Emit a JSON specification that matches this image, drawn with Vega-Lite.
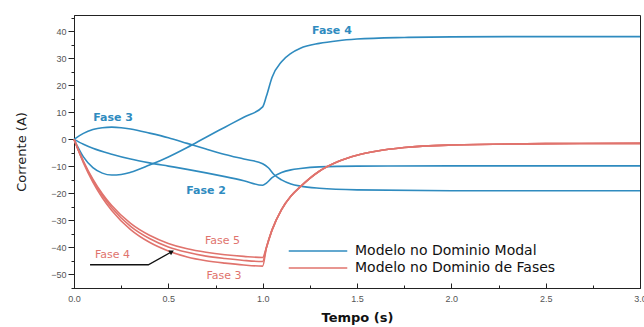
{
  "$schema": "https://vega.github.io/schema/vega-lite/v6.json",
  "width": 566,
  "height": 273,
  "autosize": "none",
  "padding": {"left": 74, "top": 15, "right": 4, "bottom": 39},
  "background": "white",
  "config": {
    "view": {"stroke": "#222", "strokeWidth": 1},
    "font": "Liberation Sans"
  },
  "datasets": {
    "curves": [
      {"t": 0, "v": 0, "fase": "M2", "modelo": "Modelo no Dominio Modal"},
      {"t": 0.05, "v": -1.8, "fase": "M2", "modelo": "Modelo no Dominio Modal"},
      {"t": 0.1, "v": -3.3, "fase": "M2", "modelo": "Modelo no Dominio Modal"},
      {"t": 0.2, "v": -5.5, "fase": "M2", "modelo": "Modelo no Dominio Modal"},
      {"t": 0.3, "v": -7.3, "fase": "M2", "modelo": "Modelo no Dominio Modal"},
      {"t": 0.4, "v": -8.7, "fase": "M2", "modelo": "Modelo no Dominio Modal"},
      {"t": 0.5, "v": -9.9, "fase": "M2", "modelo": "Modelo no Dominio Modal"},
      {"t": 0.6, "v": -11.1, "fase": "M2", "modelo": "Modelo no Dominio Modal"},
      {"t": 0.7, "v": -12.4, "fase": "M2", "modelo": "Modelo no Dominio Modal"},
      {"t": 0.8, "v": -13.8, "fase": "M2", "modelo": "Modelo no Dominio Modal"},
      {"t": 0.9, "v": -15.3, "fase": "M2", "modelo": "Modelo no Dominio Modal"},
      {"t": 1.0, "v": -17, "fase": "M2", "modelo": "Modelo no Dominio Modal"},
      {"t": 1.02, "v": -16.2, "fase": "M2", "modelo": "Modelo no Dominio Modal"},
      {"t": 1.05, "v": -14.2, "fase": "M2", "modelo": "Modelo no Dominio Modal"},
      {"t": 1.1, "v": -12.3, "fase": "M2", "modelo": "Modelo no Dominio Modal"},
      {"t": 1.15, "v": -11.3, "fase": "M2", "modelo": "Modelo no Dominio Modal"},
      {"t": 1.2, "v": -10.8, "fase": "M2", "modelo": "Modelo no Dominio Modal"},
      {"t": 1.3, "v": -10.2, "fase": "M2", "modelo": "Modelo no Dominio Modal"},
      {"t": 1.5, "v": -9.9, "fase": "M2", "modelo": "Modelo no Dominio Modal"},
      {"t": 2.0, "v": -9.8, "fase": "M2", "modelo": "Modelo no Dominio Modal"},
      {"t": 2.5, "v": -9.8, "fase": "M2", "modelo": "Modelo no Dominio Modal"},
      {"t": 3.0, "v": -9.8, "fase": "M2", "modelo": "Modelo no Dominio Modal"},

      {"t": 0, "v": 0, "fase": "M3", "modelo": "Modelo no Dominio Modal"},
      {"t": 0.05, "v": 2.2, "fase": "M3", "modelo": "Modelo no Dominio Modal"},
      {"t": 0.1, "v": 3.6, "fase": "M3", "modelo": "Modelo no Dominio Modal"},
      {"t": 0.15, "v": 4.3, "fase": "M3", "modelo": "Modelo no Dominio Modal"},
      {"t": 0.2, "v": 4.5, "fase": "M3", "modelo": "Modelo no Dominio Modal"},
      {"t": 0.25, "v": 4.3, "fase": "M3", "modelo": "Modelo no Dominio Modal"},
      {"t": 0.3, "v": 3.8, "fase": "M3", "modelo": "Modelo no Dominio Modal"},
      {"t": 0.4, "v": 2.3, "fase": "M3", "modelo": "Modelo no Dominio Modal"},
      {"t": 0.5, "v": 0.6, "fase": "M3", "modelo": "Modelo no Dominio Modal"},
      {"t": 0.6, "v": -1.5, "fase": "M3", "modelo": "Modelo no Dominio Modal"},
      {"t": 0.7, "v": -3.6, "fase": "M3", "modelo": "Modelo no Dominio Modal"},
      {"t": 0.8, "v": -5.6, "fase": "M3", "modelo": "Modelo no Dominio Modal"},
      {"t": 0.9, "v": -7.3, "fase": "M3", "modelo": "Modelo no Dominio Modal"},
      {"t": 1.0, "v": -9, "fase": "M3", "modelo": "Modelo no Dominio Modal"},
      {"t": 1.03, "v": -10.5, "fase": "M3", "modelo": "Modelo no Dominio Modal"},
      {"t": 1.06, "v": -13, "fase": "M3", "modelo": "Modelo no Dominio Modal"},
      {"t": 1.1, "v": -15, "fase": "M3", "modelo": "Modelo no Dominio Modal"},
      {"t": 1.15, "v": -16.5, "fase": "M3", "modelo": "Modelo no Dominio Modal"},
      {"t": 1.2, "v": -17.3, "fase": "M3", "modelo": "Modelo no Dominio Modal"},
      {"t": 1.3, "v": -18.1, "fase": "M3", "modelo": "Modelo no Dominio Modal"},
      {"t": 1.5, "v": -18.7, "fase": "M3", "modelo": "Modelo no Dominio Modal"},
      {"t": 2.0, "v": -19, "fase": "M3", "modelo": "Modelo no Dominio Modal"},
      {"t": 2.5, "v": -19, "fase": "M3", "modelo": "Modelo no Dominio Modal"},
      {"t": 3.0, "v": -19, "fase": "M3", "modelo": "Modelo no Dominio Modal"},

      {"t": 0, "v": 0, "fase": "M4", "modelo": "Modelo no Dominio Modal"},
      {"t": 0.05, "v": -6.5, "fase": "M4", "modelo": "Modelo no Dominio Modal"},
      {"t": 0.1, "v": -10.5, "fase": "M4", "modelo": "Modelo no Dominio Modal"},
      {"t": 0.15, "v": -12.5, "fase": "M4", "modelo": "Modelo no Dominio Modal"},
      {"t": 0.2, "v": -13.2, "fase": "M4", "modelo": "Modelo no Dominio Modal"},
      {"t": 0.25, "v": -13, "fase": "M4", "modelo": "Modelo no Dominio Modal"},
      {"t": 0.3, "v": -12.2, "fase": "M4", "modelo": "Modelo no Dominio Modal"},
      {"t": 0.4, "v": -9.5, "fase": "M4", "modelo": "Modelo no Dominio Modal"},
      {"t": 0.5, "v": -6.5, "fase": "M4", "modelo": "Modelo no Dominio Modal"},
      {"t": 0.6, "v": -3, "fase": "M4", "modelo": "Modelo no Dominio Modal"},
      {"t": 0.7, "v": 0.8, "fase": "M4", "modelo": "Modelo no Dominio Modal"},
      {"t": 0.8, "v": 4.5, "fase": "M4", "modelo": "Modelo no Dominio Modal"},
      {"t": 0.9, "v": 8.2, "fase": "M4", "modelo": "Modelo no Dominio Modal"},
      {"t": 1.0, "v": 12, "fase": "M4", "modelo": "Modelo no Dominio Modal"},
      {"t": 1.02, "v": 16, "fase": "M4", "modelo": "Modelo no Dominio Modal"},
      {"t": 1.05, "v": 23, "fase": "M4", "modelo": "Modelo no Dominio Modal"},
      {"t": 1.1, "v": 28.7, "fase": "M4", "modelo": "Modelo no Dominio Modal"},
      {"t": 1.15, "v": 31.8, "fase": "M4", "modelo": "Modelo no Dominio Modal"},
      {"t": 1.2, "v": 33.7, "fase": "M4", "modelo": "Modelo no Dominio Modal"},
      {"t": 1.3, "v": 35.5, "fase": "M4", "modelo": "Modelo no Dominio Modal"},
      {"t": 1.4, "v": 36.5, "fase": "M4", "modelo": "Modelo no Dominio Modal"},
      {"t": 1.5, "v": 37.1, "fase": "M4", "modelo": "Modelo no Dominio Modal"},
      {"t": 1.75, "v": 37.7, "fase": "M4", "modelo": "Modelo no Dominio Modal"},
      {"t": 2.0, "v": 37.9, "fase": "M4", "modelo": "Modelo no Dominio Modal"},
      {"t": 2.5, "v": 38, "fase": "M4", "modelo": "Modelo no Dominio Modal"},
      {"t": 3.0, "v": 38, "fase": "M4", "modelo": "Modelo no Dominio Modal"},

      {"t": 0, "v": 0, "fase": "F5", "modelo": "Modelo no Dominio de Fases"},
      {"t": 0.05, "v": -8.1, "fase": "F5", "modelo": "Modelo no Dominio de Fases"},
      {"t": 0.1, "v": -14.7, "fase": "F5", "modelo": "Modelo no Dominio de Fases"},
      {"t": 0.15, "v": -20.1, "fase": "F5", "modelo": "Modelo no Dominio de Fases"},
      {"t": 0.2, "v": -24.5, "fase": "F5", "modelo": "Modelo no Dominio de Fases"},
      {"t": 0.3, "v": -31.1, "fase": "F5", "modelo": "Modelo no Dominio de Fases"},
      {"t": 0.4, "v": -35.5, "fase": "F5", "modelo": "Modelo no Dominio de Fases"},
      {"t": 0.5, "v": -38.5, "fase": "F5", "modelo": "Modelo no Dominio de Fases"},
      {"t": 0.6, "v": -40.5, "fase": "F5", "modelo": "Modelo no Dominio de Fases"},
      {"t": 0.7, "v": -41.8, "fase": "F5", "modelo": "Modelo no Dominio de Fases"},
      {"t": 0.8, "v": -42.7, "fase": "F5", "modelo": "Modelo no Dominio de Fases"},
      {"t": 0.9, "v": -43.3, "fase": "F5", "modelo": "Modelo no Dominio de Fases"},
      {"t": 1.0, "v": -43.7, "fase": "F5", "modelo": "Modelo no Dominio de Fases"},
      {"t": 1.02, "v": -40, "fase": "F5", "modelo": "Modelo no Dominio de Fases"},
      {"t": 1.05, "v": -33.5, "fase": "F5", "modelo": "Modelo no Dominio de Fases"},
      {"t": 1.1, "v": -26, "fase": "F5", "modelo": "Modelo no Dominio de Fases"},
      {"t": 1.15, "v": -21, "fase": "F5", "modelo": "Modelo no Dominio de Fases"},
      {"t": 1.2, "v": -17.5, "fase": "F5", "modelo": "Modelo no Dominio de Fases"},
      {"t": 1.3, "v": -11.8, "fase": "F5", "modelo": "Modelo no Dominio de Fases"},
      {"t": 1.4, "v": -8.2, "fase": "F5", "modelo": "Modelo no Dominio de Fases"},
      {"t": 1.5, "v": -5.9, "fase": "F5", "modelo": "Modelo no Dominio de Fases"},
      {"t": 1.6, "v": -4.4, "fase": "F5", "modelo": "Modelo no Dominio de Fases"},
      {"t": 1.75, "v": -3, "fase": "F5", "modelo": "Modelo no Dominio de Fases"},
      {"t": 2.0, "v": -2.1, "fase": "F5", "modelo": "Modelo no Dominio de Fases"},
      {"t": 2.5, "v": -1.6, "fase": "F5", "modelo": "Modelo no Dominio de Fases"},
      {"t": 3.0, "v": -1.5, "fase": "F5", "modelo": "Modelo no Dominio de Fases"},

      {"t": 0, "v": 0, "fase": "F4", "modelo": "Modelo no Dominio de Fases"},
      {"t": 0.05, "v": -8.3, "fase": "F4", "modelo": "Modelo no Dominio de Fases"},
      {"t": 0.1, "v": -15.2, "fase": "F4", "modelo": "Modelo no Dominio de Fases"},
      {"t": 0.15, "v": -20.7, "fase": "F4", "modelo": "Modelo no Dominio de Fases"},
      {"t": 0.2, "v": -25.3, "fase": "F4", "modelo": "Modelo no Dominio de Fases"},
      {"t": 0.3, "v": -32.2, "fase": "F4", "modelo": "Modelo no Dominio de Fases"},
      {"t": 0.4, "v": -36.7, "fase": "F4", "modelo": "Modelo no Dominio de Fases"},
      {"t": 0.5, "v": -39.8, "fase": "F4", "modelo": "Modelo no Dominio de Fases"},
      {"t": 0.6, "v": -41.8, "fase": "F4", "modelo": "Modelo no Dominio de Fases"},
      {"t": 0.7, "v": -43.2, "fase": "F4", "modelo": "Modelo no Dominio de Fases"},
      {"t": 0.8, "v": -44.1, "fase": "F4", "modelo": "Modelo no Dominio de Fases"},
      {"t": 0.9, "v": -44.8, "fase": "F4", "modelo": "Modelo no Dominio de Fases"},
      {"t": 1.0, "v": -45.2, "fase": "F4", "modelo": "Modelo no Dominio de Fases"},
      {"t": 1.02, "v": -40, "fase": "F4", "modelo": "Modelo no Dominio de Fases"},
      {"t": 1.05, "v": -33.5, "fase": "F4", "modelo": "Modelo no Dominio de Fases"},
      {"t": 1.1, "v": -26, "fase": "F4", "modelo": "Modelo no Dominio de Fases"},
      {"t": 1.15, "v": -21, "fase": "F4", "modelo": "Modelo no Dominio de Fases"},
      {"t": 1.2, "v": -17.5, "fase": "F4", "modelo": "Modelo no Dominio de Fases"},
      {"t": 1.3, "v": -11.8, "fase": "F4", "modelo": "Modelo no Dominio de Fases"},
      {"t": 1.4, "v": -8.2, "fase": "F4", "modelo": "Modelo no Dominio de Fases"},
      {"t": 1.5, "v": -5.9, "fase": "F4", "modelo": "Modelo no Dominio de Fases"},
      {"t": 1.6, "v": -4.4, "fase": "F4", "modelo": "Modelo no Dominio de Fases"},
      {"t": 1.75, "v": -3, "fase": "F4", "modelo": "Modelo no Dominio de Fases"},
      {"t": 2.0, "v": -2.1, "fase": "F4", "modelo": "Modelo no Dominio de Fases"},
      {"t": 2.5, "v": -1.6, "fase": "F4", "modelo": "Modelo no Dominio de Fases"},
      {"t": 3.0, "v": -1.5, "fase": "F4", "modelo": "Modelo no Dominio de Fases"},

      {"t": 0, "v": 0, "fase": "F3", "modelo": "Modelo no Dominio de Fases"},
      {"t": 0.05, "v": -8.7, "fase": "F3", "modelo": "Modelo no Dominio de Fases"},
      {"t": 0.1, "v": -15.8, "fase": "F3", "modelo": "Modelo no Dominio de Fases"},
      {"t": 0.15, "v": -21.6, "fase": "F3", "modelo": "Modelo no Dominio de Fases"},
      {"t": 0.2, "v": -26.3, "fase": "F3", "modelo": "Modelo no Dominio de Fases"},
      {"t": 0.3, "v": -33.4, "fase": "F3", "modelo": "Modelo no Dominio de Fases"},
      {"t": 0.4, "v": -38.1, "fase": "F3", "modelo": "Modelo no Dominio de Fases"},
      {"t": 0.5, "v": -41.3, "fase": "F3", "modelo": "Modelo no Dominio de Fases"},
      {"t": 0.6, "v": -43.5, "fase": "F3", "modelo": "Modelo no Dominio de Fases"},
      {"t": 0.7, "v": -44.9, "fase": "F3", "modelo": "Modelo no Dominio de Fases"},
      {"t": 0.8, "v": -45.8, "fase": "F3", "modelo": "Modelo no Dominio de Fases"},
      {"t": 0.9, "v": -46.5, "fase": "F3", "modelo": "Modelo no Dominio de Fases"},
      {"t": 1.0, "v": -46.9, "fase": "F3", "modelo": "Modelo no Dominio de Fases"},
      {"t": 1.02, "v": -40, "fase": "F3", "modelo": "Modelo no Dominio de Fases"},
      {"t": 1.05, "v": -33.5, "fase": "F3", "modelo": "Modelo no Dominio de Fases"},
      {"t": 1.1, "v": -26, "fase": "F3", "modelo": "Modelo no Dominio de Fases"},
      {"t": 1.15, "v": -21, "fase": "F3", "modelo": "Modelo no Dominio de Fases"},
      {"t": 1.2, "v": -17.5, "fase": "F3", "modelo": "Modelo no Dominio de Fases"},
      {"t": 1.3, "v": -11.8, "fase": "F3", "modelo": "Modelo no Dominio de Fases"},
      {"t": 1.4, "v": -8.2, "fase": "F3", "modelo": "Modelo no Dominio de Fases"},
      {"t": 1.5, "v": -5.9, "fase": "F3", "modelo": "Modelo no Dominio de Fases"},
      {"t": 1.6, "v": -4.4, "fase": "F3", "modelo": "Modelo no Dominio de Fases"},
      {"t": 1.75, "v": -3, "fase": "F3", "modelo": "Modelo no Dominio de Fases"},
      {"t": 2.0, "v": -2.1, "fase": "F3", "modelo": "Modelo no Dominio de Fases"},
      {"t": 2.5, "v": -1.6, "fase": "F3", "modelo": "Modelo no Dominio de Fases"},
      {"t": 3.0, "v": -1.5, "fase": "F3", "modelo": "Modelo no Dominio de Fases"}
    ],
    "labelsBlue": [
      {"t": 1.367, "v": 40.1, "label": "Fase 4"},
      {"t": 0.207, "v": 7.8, "label": "Fase 3"},
      {"t": 0.7, "v": -19.0, "label": "Fase 2"}
    ],
    "labelsRed": [
      {"t": 0.204, "v": -42.9, "label": "Fase 4"},
      {"t": 0.787, "v": -37.6, "label": "Fase 5"},
      {"t": 0.795, "v": -50.6, "label": "Fase 3"}
    ],
    "arrow": [
      {"t": 0.085, "v": -46.4, "k": 0},
      {"t": 0.394, "v": -46.4, "k": 1},
      {"t": 0.518, "v": -41.6, "k": 2}
    ],
    "arrowHead": [
      {"t": 0.518, "v": -41.6}
    ]
  },
  "encoding": {
    "x": {
      "field": "t", "type": "quantitative",
      "scale": {"domain": [0, 3], "nice": false, "zero": false},
      "axis": {
        "title": "Tempo (s)",
        "values": [0, 0.25, 0.5, 0.75, 1, 1.25, 1.5, 1.75, 2, 2.25, 2.5, 2.75, 3],
        "format": ".1f",
        "labelExpr": "abs(datum.value*2 - round(datum.value*2)) < 0.001 ? datum.label : ''",
        "grid": false,
        "domainColor": "#222",
        "tickColor": "#222",
        "tickSize": {"condition": {"test": "abs(datum.value*2 - round(datum.value*2)) < 0.001", "value": -5}, "value": -3},
        "labelPadding": 11,
        "labelFontSize": 9,
        "labelColor": "#555",
        "labelFlush": false,
        "titleFontSize": 13,
        "titleFontWeight": "bold",
        "titleColor": "#111",
        "titlePadding": 8,
        "titleFont": "DejaVu Sans"
      }
    },
    "y": {
      "field": "v", "type": "quantitative",
      "scale": {"domain": [-55, 46], "nice": false, "zero": false},
      "axis": {
        "title": "Corrente (A)",
        "values": [-55, -50, -45, -40, -35, -30, -25, -20, -15, -10, -5, 0, 5, 10, 15, 20, 25, 30, 35, 40, 45],
        "labelExpr": "datum.value % 10 === 0 ? datum.label : ''",
        "grid": false,
        "domainColor": "#222",
        "tickColor": "#222",
        "tickSize": {"condition": {"test": "datum.value % 10 === 0", "value": 6}, "value": 3},
        "labelPadding": 2,
        "labelFontSize": 9,
        "labelColor": "#555",
        "titleFontSize": 13,
        "titleFontWeight": "normal",
        "titleColor": "#222",
        "titlePadding": 22,
        "titleFont": "DejaVu Sans"
      }
    }
  },
  "layer": [
    {
      "data": {"name": "curves"},
      "mark": {"type": "line", "strokeWidth": 1.6, "interpolate": "monotone"},
      "encoding": {
        "color": {
          "field": "modelo", "type": "nominal",
          "scale": {"domain": ["Modelo no Dominio Modal", "Modelo no Dominio de Fases"], "range": ["#2f8bbf", "#e0736d"]},
          "legend": {
            "title": null,
            "orient": "none",
            "legendX": 237,
            "legendY": 229,
            "symbolType": "M-5,0H5",
            "symbolSize": 137,
            "symbolStrokeWidth": 1.5,
            "labelFontSize": 14,
            "labelFont": "DejaVu Sans",
            "labelColor": "#111",
            "labelOffset": 30,
            "labelLimit": 400,
            "rowPadding": 3,
            "padding": 0
          }
        },
        "detail": {"field": "fase", "type": "nominal"}
      }
    },
    {
      "data": {"name": "labelsBlue"},
      "mark": {"type": "text", "color": "#2f8bbf", "fontSize": 11, "font": "DejaVu Sans", "fontWeight": "bold"},
      "encoding": {"text": {"field": "label", "type": "nominal"}}
    },
    {
      "data": {"name": "labelsRed"},
      "mark": {"type": "text", "color": "#e0736d", "fontSize": 11, "font": "DejaVu Sans", "fontWeight": "normal"},
      "encoding": {"text": {"field": "label", "type": "nominal"}}
    },
    {
      "data": {"name": "arrow"},
      "mark": {"type": "line", "color": "#111", "strokeWidth": 1.3},
      "encoding": {"order": {"field": "k", "type": "quantitative"}}
    },
    {
      "data": {"name": "arrowHead"},
      "mark": {"type": "point", "shape": "triangle-right", "angle": 330, "size": 30, "filled": true, "color": "#111", "opacity": 1},
      "encoding": {}
    }
  ]
}
